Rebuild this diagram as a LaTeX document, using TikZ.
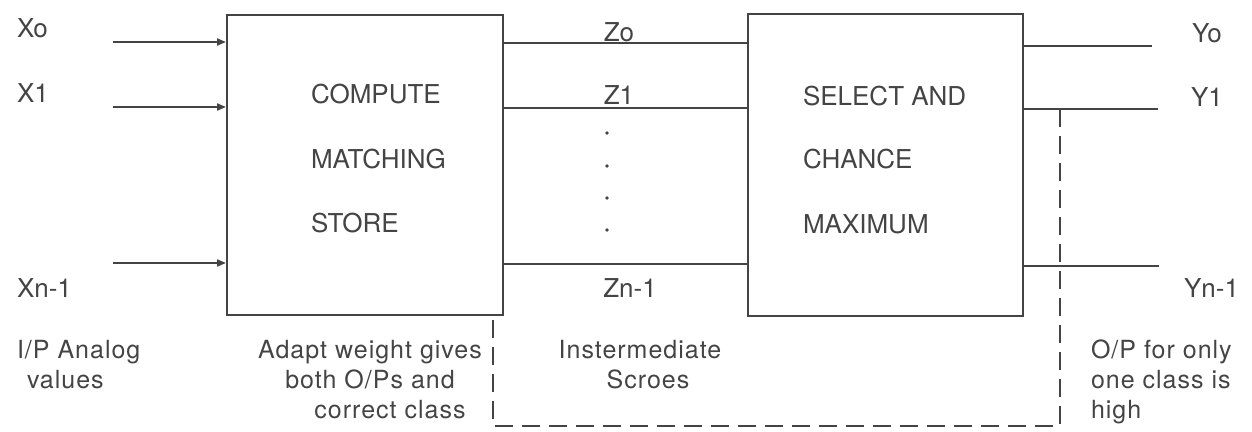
\documentclass[tikz,border=0pt]{standalone}
\usepackage{fontspec}
\setmainfont{TeX Gyre Heros}
\newfontfamily\spacedfont[LetterSpace=4]{TeX Gyre Heros}
\usetikzlibrary{arrows.meta}
\definecolor{ink}{HTML}{444444}
\begin{document}
\begin{tikzpicture}[x=1pt,y=-1pt,
  line width=2pt, draw=ink, text=ink,
  blockbox/.style={draw=ink, line width=2pt, minimum width=276pt, minimum height=300pt, inner sep=0pt},
  biglabel/.style={font=\fontsize{26}{30}\selectfont, inner sep=0pt},
  notelabel/.style={font=\spacedfont\fontsize{25}{30}\selectfont, inner sep=0pt},
  inarrow/.style={-{Triangle[length=9pt,width=7pt]}, draw=ink},
  wire/.style={draw=ink},
  dashwire/.style={draw=ink, dash pattern=on 18pt off 9pt, line width=1.8pt}
]
\useasboundingbox (0,0) rectangle (1252,431);

% boxes
\node[blockbox] (lbox) at (365,165) {};
\node[blockbox, minimum width=275pt, minimum height=302pt] (rbox) at (885.5,165) {};

% box texts
\node[biglabel, anchor=base west] (t1) at (310,103) {COMPUTE};
\node[biglabel, anchor=base west] (t2) at (310,168) {MATCHING};
\node[biglabel, anchor=base west] (t3) at (310,232) {STORE};
\node[biglabel, anchor=base west] (s1) at (802,105) {SELECT AND};
\node[biglabel, anchor=base west] (s2) at (802,168) {CHANCE};
\node[biglabel, anchor=base west] (s3) at (802,233) {MAXIMUM};

% input labels
\node[biglabel, anchor=base west] (lx0) at (16,37) {Xo};
\node[biglabel, anchor=base west] (lx1) at (16,102) {X1};
\node[biglabel, anchor=base west] (lxn) at (16,297) {Xn-1};

% input arrows
\coordinate (x0) at (113,42);
\coordinate (x1) at (113,107);
\coordinate (xn) at (113,263);
\draw[inarrow] (x0) -- (x0 -| lbox.west);
\draw[inarrow] (x1) -- (x1 -| lbox.west);
\draw[inarrow] (xn) -- (xn -| lbox.west);

% intermediate lines
\coordinate (z0) at (500,43);
\coordinate (z1) at (500,108);
\coordinate (zn) at (500,264);
\draw[wire] (z0 -| lbox.east) -- (z0 -| rbox.west);
\draw[wire] (z1 -| lbox.east) -- (z1 -| rbox.west);
\draw[wire] (zn -| lbox.east) -- (zn -| rbox.west);
\node[biglabel, anchor=base] (lz0) at (619,41) {Zo};
\node[biglabel, anchor=base] (lz1) at (619,104) {Z1};
\node[biglabel, anchor=base] (lzn) at (630,297) {Zn-1};
\foreach \yy [count=\i] in {133,166,198,230}{
  \fill[ink] (607,\yy) circle[radius=1.8pt] coordinate (dot\i);
}

% outputs
\coordinate (y0) at (1152,46);
\coordinate (y1) at (1158,109);
\coordinate (yn) at (1159,266);
\draw[wire] (y0 -| rbox.east) -- (y0);
\draw[wire] (y1 -| rbox.east) -- (y1);
\draw[wire] (yn -| rbox.east) -- (yn);
\node[biglabel, anchor=base] (ly0) at (1207,42) {Yo};
\node[biglabel, anchor=base] (ly1) at (1207,106) {Y1};
\node[biglabel, anchor=base east] (lyn) at (1240,297) {Yn-1};

% feedback dashed path
\coordinate (fb1) at (1060,109);
\coordinate (fb2) at (1060,426);
\coordinate (fb3) at (493,426);
\draw[dashwire] (fb1) -- (fb2) -- (fb3) -- (fb3 |- lbox.south);

% notes
\node[notelabel, anchor=north west, align=left] (n1) at (16,339) {I/P Analog\\\hspace*{10pt}values};
\node[notelabel, anchor=north, align=center] (n2) at (370,339) {Adapt weight gives\\both O/Ps and\\\hspace*{40pt}correct class};
\node[notelabel, anchor=north, align=center] (n3) at (640,339) {Instermediate\\\hspace*{16pt}Scroes};
\node[notelabel, anchor=north west, align=left] (n4) at (1090,339) {O/P for only\\one class is\\high};
\end{tikzpicture}
\end{document}
